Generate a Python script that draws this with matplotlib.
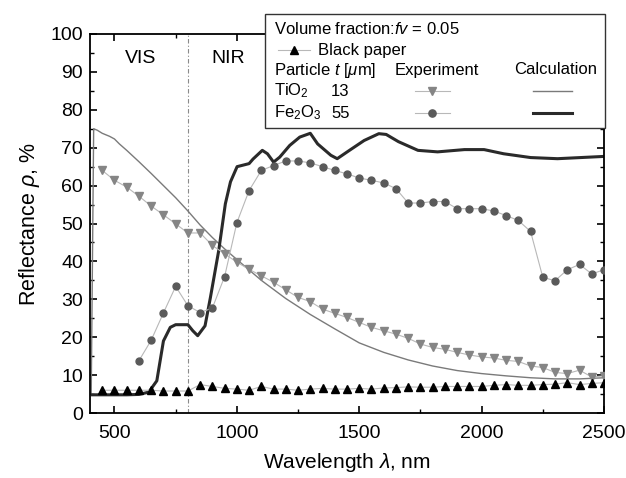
import matplotlib
matplotlib.use("Agg")
import matplotlib.pyplot as plt
from matplotlib.lines import Line2D
from matplotlib.patches import Rectangle

plt.rcParams['font.family'] = ['Liberation Sans', 'DejaVu Sans']
plt.rcParams['mathtext.fontset'] = 'custom'
plt.rcParams['mathtext.it'] = 'Liberation Sans:italic'
plt.rcParams['mathtext.rm'] = 'Liberation Sans'

# Black paper (experiment), every 50 nm
paper_wl = list(range(450, 2501, 50))
paper_r = [6.0, 6.0, 6.0, 6.0, 6.0, 5.8, 5.8, 5.8, 7.5, 7.0, 6.5, 6.3, 6.0, 7.0, 6.3, 6.3,
           6.0, 6.3, 6.5, 6.3, 6.3, 6.5, 6.3, 6.6, 6.7, 6.9, 6.8, 6.8, 7.0, 7.0, 7.0, 7.0,
           7.3, 7.5, 7.3, 7.3, 7.5, 7.6, 8.0, 7.5, 7.8, 8.0]

# TiO2 experiment
tio2_wl = list(range(450, 2501, 50))
tio2_exp = [64.0, 61.4, 59.6, 57.2, 54.6, 52.3, 49.9, 47.5, 47.5, 44.2, 42.0, 39.8, 37.9,
            36.2, 34.5, 32.5, 30.5, 29.4, 27.4, 26.3, 25.2, 23.9, 22.6, 21.7, 20.8, 19.7,
            18.2, 17.3, 16.8, 16.0, 15.3, 14.8, 14.5, 13.9, 13.6, 12.4, 12.0, 10.7, 10.4,
            11.3, 9.5, 9.8]

# TiO2 calculation
tio2_calc_wl = [405, 415, 430, 450, 480, 500, 520, 550, 600, 650, 700, 750, 800, 850, 900,
                950, 1000, 1100, 1200, 1300, 1400, 1500, 1600, 1700, 1800, 1900, 2000,
                2100, 2200, 2300, 2400, 2500]
tio2_calc = [5.0, 75.0, 74.6, 73.8, 73.0, 72.3, 71.0, 69.3, 66.3, 63.2, 60.0, 56.8, 53.3,
             49.6, 46.3, 43.3, 40.5, 35.0, 30.2, 26.0, 22.2, 18.5, 16.0, 14.0, 12.4, 11.2,
             10.4, 9.8, 9.3, 9.0, 9.0, 9.3]

# Fe2O3 experiment
fe_wl = list(range(600, 2501, 50))
fe_exp = [13.8, 19.2, 26.4, 33.4, 28.3, 26.5, 27.7, 36.0, 50.2, 58.7, 64.0, 65.3, 66.5,
          66.5, 66.0, 65.0, 64.0, 63.1, 62.0, 61.4, 60.7, 59.2, 55.4, 55.4, 55.8, 55.8,
          53.9, 53.9, 53.9, 53.3, 52.1, 50.8, 47.9, 35.8, 34.9, 37.8, 39.2, 36.7, 37.8]

# Fe2O3 calculation
fe_calc_wl = [410, 450, 500, 550, 600, 640, 673, 700, 728, 750, 800, 820, 840, 870, 892,
              926, 953, 974, 1001, 1050, 1066, 1104, 1125, 1150, 1175, 1216, 1257, 1300,
              1330, 1384, 1410, 1460, 1520, 1580, 1610, 1660, 1740, 1820, 1930, 2010,
              2090, 2200, 2310, 2500]
fe_calc = [4.8, 4.8, 4.8, 4.8, 4.9, 5.5, 8.5, 19.0, 22.6, 23.3, 23.3, 21.7, 20.4, 23.0,
           30.5, 42.9, 55.2, 61.0, 65.0, 65.8, 67.0, 69.3, 68.4, 66.2, 67.5, 70.6, 72.8,
           73.8, 71.0, 68.0, 67.1, 69.3, 71.9, 73.7, 73.5, 71.6, 69.3, 68.9, 69.5, 69.5,
           68.4, 67.4, 67.1, 67.7]

fig = plt.figure(figsize=(6.26, 4.78), dpi=100)
ax = fig.add_axes([90 / 626, 65 / 478, 514 / 626, 379 / 478])

# experiment series (markers with thin grey joining lines)
ax.plot(tio2_wl, tio2_exp, color='#b8b8b8', lw=0.8, marker='v', ms=5.2,
        mfc='#858585', mec='#858585', zorder=3)
ax.plot(fe_wl, fe_exp, color='#b8b8b8', lw=0.8, marker='o', ms=5.0,
        mfc='#5a5a5a', mec='#5a5a5a', zorder=3)
ax.plot(paper_wl, paper_r, color='#b8b8b8', lw=0.8, marker='^', ms=5.2,
        mfc='black', mec='black', zorder=3)

# calculations
ax.plot(tio2_calc_wl, tio2_calc, color='#7a7a7a', lw=1.0, zorder=2)
ax.plot(fe_calc_wl, fe_calc, color='#2a2a2a', lw=2.2, zorder=2)

# VIS / NIR boundary
ax.axvline(800, color='#8a8a8a', lw=0.8, ls=(0, (4, 2, 1, 2)), zorder=1)
ax.text(605, 93.6, 'VIS', ha='center', va='center', fontsize=14)
ax.text(965, 93.6, 'NIR', ha='center', va='center', fontsize=14)

ax.set_xlim(400, 2500)
ax.set_ylim(0, 100)
ax.set_xticks([500, 1000, 1500, 2000, 2500])
ax.set_xticks(range(750, 2500, 500), minor=True)
ax.set_yticks(range(0, 101, 10))
ax.set_yticks(range(5, 100, 10), minor=True)
ax.tick_params(which='both', direction='in', top=True, right=True, labelsize=14)
ax.tick_params(which='major', length=5, width=1.2, pad=5)
ax.tick_params(axis='x', which='major', pad=9)
ax.tick_params(which='minor', length=3, width=1.0)
for s in ax.spines.values():
    s.set_linewidth(1.3)
ax.set_xlabel('Wavelength $\\lambda$, nm', fontsize=15, labelpad=6)
ax.set_ylabel('Reflectance $\\rho$, %', fontsize=15.5, labelpad=6)


# legend box drawn by hand in figure pixel coordinates (origin top-left)
def fx(px):
    return px / 626


def fy(py):
    return 1 - py / 478


fig.add_artist(Rectangle((fx(265), fy(128)), fx(340), 114 / 478, transform=fig.transFigure,
                         facecolor='white', edgecolor='#333333', lw=1.0, zorder=5))
fs = 12
fig.text(fx(274), fy(29), 'Volume fraction:$fv$ = 0.05', fontsize=fs, va='center', zorder=6)
fig.add_artist(Line2D([fx(278), fx(310)], [fy(50), fy(50)], color='#b8b8b8', lw=0.8,
                      transform=fig.transFigure, zorder=6))
fig.add_artist(Line2D([fx(294)], [fy(50)], marker='^', ms=5.5, color='black',
                      transform=fig.transFigure, zorder=6))
fig.text(fx(318), fy(50), 'Black paper', fontsize=fs, va='center', zorder=6)
fig.text(fx(274), fy(70), 'Particle $t$ [$\\mu$m]', fontsize=fs, va='center', zorder=6)
fig.text(fx(395), fy(70), 'Experiment', fontsize=fs, va='center', zorder=6)
fig.text(fx(514), fy(70), 'Calculation', fontsize=fs, va='center', zorder=6)
fig.text(fx(274), fy(91), 'TiO$_2$', fontsize=fs, va='center', zorder=6)
fig.text(fx(331), fy(91), '13', fontsize=fs, va='center', zorder=6)
fig.text(fx(274), fy(113), 'Fe$_2$O$_3$', fontsize=fs, va='center', zorder=6)
fig.text(fx(331), fy(113), '55', fontsize=fs, va='center', zorder=6)
for py, mk, col in [(91, 'v', '#858585'), (113, 'o', '#5a5a5a')]:
    fig.add_artist(Line2D([fx(415), fx(450)], [fy(py), fy(py)], color='#b8b8b8', lw=0.8,
                          transform=fig.transFigure, zorder=6))
    fig.add_artist(Line2D([fx(432)], [fy(py)], marker=mk, ms=5.2, color=col,
                          transform=fig.transFigure, zorder=6))
fig.add_artist(Line2D([fx(533), fx(572)], [fy(91), fy(91)], color='#7a7a7a', lw=1.0,
                      transform=fig.transFigure, zorder=6))
fig.add_artist(Line2D([fx(533), fx(572)], [fy(113), fy(113)], color='#2a2a2a', lw=2.2,
                      transform=fig.transFigure, zorder=6))

fig.savefig('out.png', dpi=100)
